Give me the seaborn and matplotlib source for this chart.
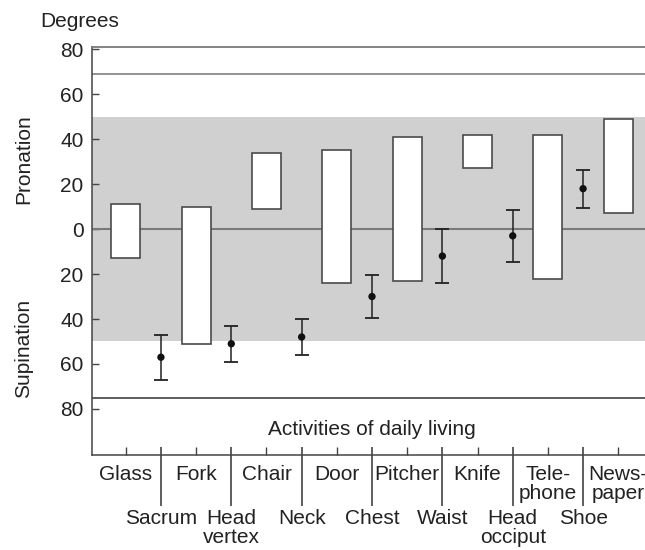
import numpy as np
import pandas as pd
import matplotlib
matplotlib.use('Agg')
import matplotlib.pyplot as plt
import seaborn as sns

# ---- DATA ----
# tasks: range of forearm rotation (pronation +, supination -)
tasks = ['Glass', 'Fork', 'Chair', 'Door', 'Pitcher', 'Knife', 'Tele-\nphone', 'News-\npaper']
task_low = [-13, -51, 9, -24, -23, 27, -22, 7]
task_high = [11, 10, 34, 35, 41, 42, 42, 49]

# activities of daily living: mean and sd
adl = ['Sacrum', 'Head\nvertex', 'Neck', 'Chest', 'Waist', 'Head\nocciput', 'Shoe']
adl_mean = [-57, -51, -48, -30, -12, -3, 18]
adl_sd = [10, 8, 8, 9.5, 12, 11.5, 8.5]

y_ticks = [80, 60, 40, 20, 0, -20, -40, -60, -80]
y_labels = ['80', '60', '40', '20', '0', '20', '40', '60', '80']

band = (-50, 50)
pron_max = 69
sup_max = -75

# ---- STYLE ----
sns.set_style('ticks')
plt.rcParams['font.family'] = ['Liberation Sans', 'DejaVu Sans']
fs = 15
plt.rcParams['font.size'] = fs
txt = '#222222'

task_x = np.arange(len(tasks))
adl_x = np.arange(len(adl)) + 0.5

df_tasks = pd.DataFrame({'pos': task_x, 'low': task_low, 'high': task_high})
df_tasks['span'] = df_tasks['high'] - df_tasks['low']
df_adl = pd.DataFrame({'pos': adl_x, 'mean': adl_mean, 'sd': adl_sd})

fig = plt.figure(figsize=(6.45, 5.5), dpi=100)
ax = fig.add_axes([0.1426, 0.1727, 0.8574, 0.7418])

# functional range band + reference lines
ax.axhspan(band[0], band[1], color='#d0d0d0', lw=0, zorder=0)
ax.axhline(0, color='#7a7a7a', lw=1.5, zorder=1)
ax.axhline(pron_max, color='#8a8a8a', lw=1.3, zorder=1)
ax.axhline(sup_max, color='#333333', lw=1.1, zorder=1)

# ---- BOXES ----
sns.barplot(data=df_tasks, x='pos', y='span', bottom=df_tasks['low'].values,
            native_scale=True, width=0.41, color='white', edgecolor='#4a4a4a',
            linewidth=1.2, saturation=1, errorbar=None, ax=ax, zorder=3)

# ---- ADL POINTS ----
ax.errorbar(df_adl['pos'], df_adl['mean'], yerr=df_adl['sd'], fmt='none',
            ecolor='#222222', elinewidth=1.1, capsize=4.8, capthick=1.3, zorder=4)
sns.scatterplot(data=df_adl, x='pos', y='mean', color='#111111', s=28,
                edgecolor='none', ax=ax, zorder=5, legend=False)

ax.text(3.5, -89, 'Activities of daily living', ha='center', va='center',
        color=txt, fontsize=fs)

# ---- AXES ----
ax.set_xlim(-0.48, 7.38)
ax.set_ylim(-100.5, 81)
ax.set_xlabel('')
ax.set_ylabel('')

ax.set_yticks(y_ticks)
ax.set_yticklabels(y_labels)
ax.tick_params(axis='y', direction='in', length=5, width=1, color='#444444',
               pad=6, labelcolor=txt, labelsize=fs)

ax.xaxis.remove_overlapping_locs = False
ax.set_xticks(task_x)
ax.set_xticklabels(tasks, linespacing=1.0)
ax.set_xticks(adl_x, minor=True)
ax.set_xticklabels(adl, minor=True, linespacing=1.0)
ax.tick_params(axis='x', which='major', direction='in', length=6, width=1,
               color='#444444', pad=7, labelcolor=txt, labelsize=fs)
ax.tick_params(axis='x', which='minor', direction='out', length=37, width=1.1,
               color='#333333', pad=2, labelcolor=txt, labelsize=fs)

# inner stub of the long separator ticks
sec = ax.secondary_xaxis('bottom')
sec.set_xticks(adl_x)
sec.set_xticklabels([])
sec.tick_params(direction='in', length=6, width=1.1, color='#333333')
sec.spines['bottom'].set_visible(False)

for s in ['left', 'bottom']:
    ax.spines[s].set_color('#444444')
    ax.spines[s].set_linewidth(1.1)
ax.spines['top'].set_color('#7a7a7a')
ax.spines['top'].set_linewidth(1.3)
ax.spines['right'].set_visible(False)

fig.text(0.062, 0.961, 'Degrees', ha='left', va='center', color=txt, fontsize=fs)
fig.text(0.037, 0.711, 'Pronation', rotation=90, ha='center', va='center',
         color=txt, fontsize=fs)
fig.text(0.037, 0.367, 'Supination', rotation=90, ha='center', va='center',
         color=txt, fontsize=fs)

fig.savefig('out.png', dpi=100)
